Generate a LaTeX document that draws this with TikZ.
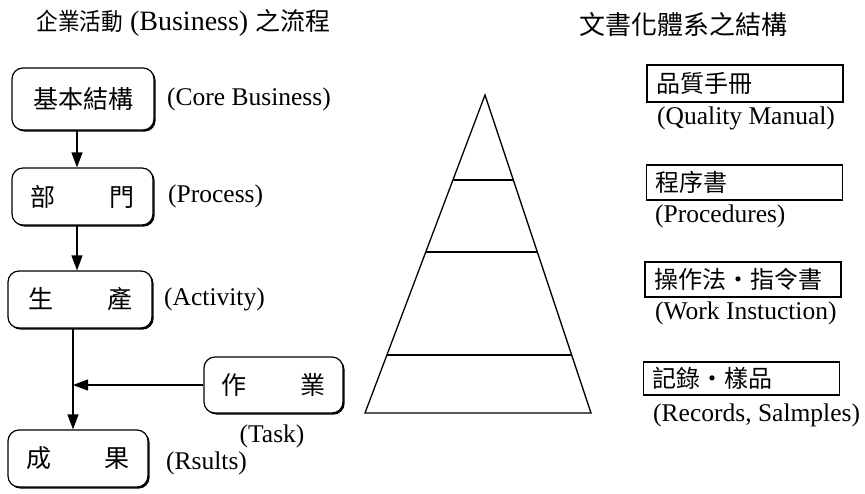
\documentclass[tikz,border=0pt]{standalone}
\usepackage{graphicx}
\usepackage{fontspec}
\setmainfont{Liberation Serif}
\newfontfamily\cjk{Noto Sans CJK TC}
\usetikzlibrary{shadows,arrows.meta,calc}
\begin{document}
\begin{tikzpicture}[x=1pt,y=-1pt,
  flowbox/.style={draw, line width=1.2pt, rounded corners=11pt, fill=white,
    minimum width=141pt, minimum height=57pt, inner sep=0pt,
    font=\cjk\fontsize{25}{25}\selectfont,
    general shadow={fill=black, shadow xshift=1.6pt, shadow yshift=-1.6pt}},
  docbox/.style={draw, line width=1.3pt, minimum height=35pt, inner ysep=0pt,
    inner xsep=9pt, text width=178pt, align=left,
    font=\cjk\fontsize{24}{24}\selectfont},
  lab/.style={font=\fontsize{25.5}{25.5}\selectfont, inner sep=0pt},
  arr/.style={line width=1.2pt, -{Triangle[length=15pt,width=11pt]}},
  tier/.style={line width=1.3pt}]
\useasboundingbox (0,0) rectangle (865,493);

% titles
\node[inner sep=0pt, font=\fontsize{28}{28}\selectfont] (t1) at (183.5,23)
  {{\cjk\fontsize{24}{24}\selectfont\scalebox{0.9}[1]{企業活動}} (Business) {\cjk\fontsize{25}{25}\selectfont 之流程}};
\node[inner sep=0pt, font=\cjk\fontsize{26}{26}\selectfont] (t2) at (683,25) {文書化體系之結構};

% flow boxes
\node[flowbox, minimum width=142pt, minimum height=62pt] (b1) at (83,99) {基本結構};
\node[flowbox] (b2) at (82.5,196.5) {\makebox[104pt]{部\hfill 門}};
\node[flowbox, minimum width=144pt] (b3) at (80,299.5) {\makebox[104pt]{生\hfill 產}};
\node[flowbox, minimum width=139pt, minimum height=56pt] (b4) at (273.5,385) {\makebox[104pt]{作\hfill 業}};
\node[flowbox, minimum width=140pt] (b5) at (78,458.5) {\makebox[104pt]{成\hfill 果}};

% flow labels
\node[lab, anchor=west] (l1) at (167,99) {(Core Business)};
\node[lab, anchor=west] (l2) at (168,196) {(Process)};
\node[lab, anchor=west] (l3) at (164,299) {(Activity)};
\node[lab] (l4) at (272,436) {(Task)};
\node[lab, anchor=west] (l5) at (166,463) {(Rsults)};

% connectors
\coordinate (va) at (77,0);
\coordinate (vb) at (73,0);
\draw[arr] (b1.south -| va) -- (b2.north -| va);
\draw[arr] (b2.south -| va) -- (b3.north -| va);
\draw[arr] (b3.south -| vb) -- (b5.north -| vb);
\draw[arr] (b4.west) -- (b4.west -| vb);

% pyramid
\coordinate (apex) at (485,95);
\coordinate (bl) at (365,413);
\coordinate (br) at (591,413);
\draw[tier, line join=miter] (apex) -- (bl) -- (br) -- cycle;
\draw[tier] ($(apex)!0.267!(bl)$) -- ($(apex)!0.267!(br)$);
\draw[tier] ($(apex)!0.494!(bl)$) -- ($(apex)!0.494!(br)$);
\draw[tier] ($(apex)!0.818!(bl)$) -- ($(apex)!0.818!(br)$);

% document boxes
\node[docbox, minimum height=37pt] (d1) at (745,83.5) {品質手冊};
\node[docbox] (d2) at (744.5,182.5) {程序書};
\node[docbox] (d3) at (743,279.5) {操作法・指令書};
\node[docbox, minimum height=33pt] (d4) at (741.5,378.5) {記錄・樣品};

\node[lab, anchor=west] (e1) at (657,118) {(Quality Manual)};
\node[lab, anchor=west] (e2) at (655,216) {(Procedures)};
\node[lab, anchor=west] (e3) at (655,313) {(Work Instuction)};
\node[lab, anchor=west] (e4) at (653,415) {(Records, Salmples)};
\end{tikzpicture}
\end{document}
